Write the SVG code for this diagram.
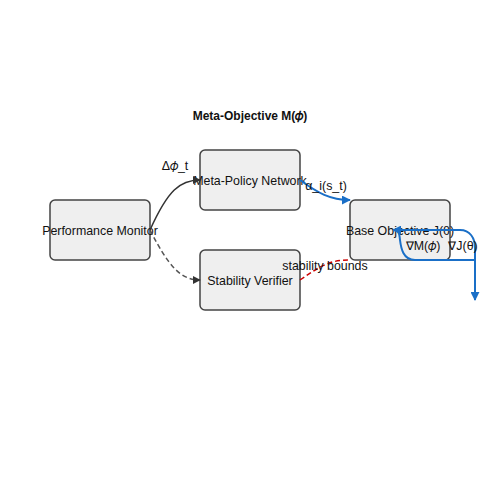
<svg xmlns="http://www.w3.org/2000/svg" width="500" height="500" viewBox="0 0 500 500">
<style>
.box{fill:#efefef;stroke:#444;stroke-width:1.5}
.t{font-family:"Liberation Sans",Arial,sans-serif;font-size:12.4px;fill:#111;text-anchor:middle}
.title{font-weight:bold;font-size:12px}
.e{fill:none;stroke-width:1.5}
.dark{stroke:#333}
.gray{stroke:#555;stroke-dasharray:5,3}
.blue{stroke:#1a6fc7;stroke-width:2}
.red{stroke:#c00;stroke-dasharray:5,3}
</style>
<defs>
<marker id="ad" viewBox="0 0 10 10" refX="9" refY="5" markerWidth="8" markerHeight="8" orient="auto" markerUnits="userSpaceOnUse"><path d="M0,0 L10,5 L0,10 z" fill="#333"/></marker>
<marker id="ab" viewBox="0 0 10 10" refX="9" refY="5" markerWidth="9" markerHeight="9" orient="auto" markerUnits="userSpaceOnUse"><path d="M0,0 L10,5 L0,10 z" fill="#1a6fc7"/></marker>
</defs>
<rect width="500" height="500" fill="#fff"/>
<text class="t title" x="250" y="120">Meta-Objective M(𝜙)</text>
<g id="n-monitor"><rect class="box" x="50" y="200" width="100" height="60" rx="5"/><text class="t" x="100" y="235">Performance Monitor</text></g>
<g id="n-meta"><rect class="box" x="200" y="150" width="100" height="60" rx="5"/><text class="t" x="250" y="185">Meta-Policy Network</text></g>
<g id="n-stab"><rect class="box" x="200" y="250" width="100" height="60" rx="5"/><text class="t" x="250" y="285">Stability Verifier</text></g>
<g id="n-base"><rect class="box" x="350" y="200" width="100" height="60" rx="5"/><text class="t" x="400" y="235">Base Objective J(θ)</text></g>
<g id="edges">
<path class="e dark" d="M150,230 C168,190 180,180 200,180" marker-end="url(#ad)"/>
<text class="t" x="175" y="170">Δ𝜙_t</text>
<path class="e gray" d="M150,230 C168,265 180,280 200,280" marker-end="url(#ad)"/>
<path class="e blue" d="M300,180 C318,193 330,200 350,200" marker-end="url(#ab)"/>
<text class="t" x="326" y="190">α_i(s_t)</text>
<path class="e red" d="M300,280 C322,265 330,260 350,260"/>
<text class="t" x="325" y="270">stability bounds</text>
<path class="e blue" d="M475,260 L415,260 C403,260 401,248 400,240 C399,233 400,230 393,230" marker-end="url(#ab)"/>
<text class="t" x="423" y="250">∇M(𝜙)</text>
<path class="e blue" d="M395,230 L460,230 C470,230 475,238 475,248 L475,300" marker-end="url(#ab)"/>
<text class="t" x="463" y="250">∇J(θ)</text>
</g>
</svg>
